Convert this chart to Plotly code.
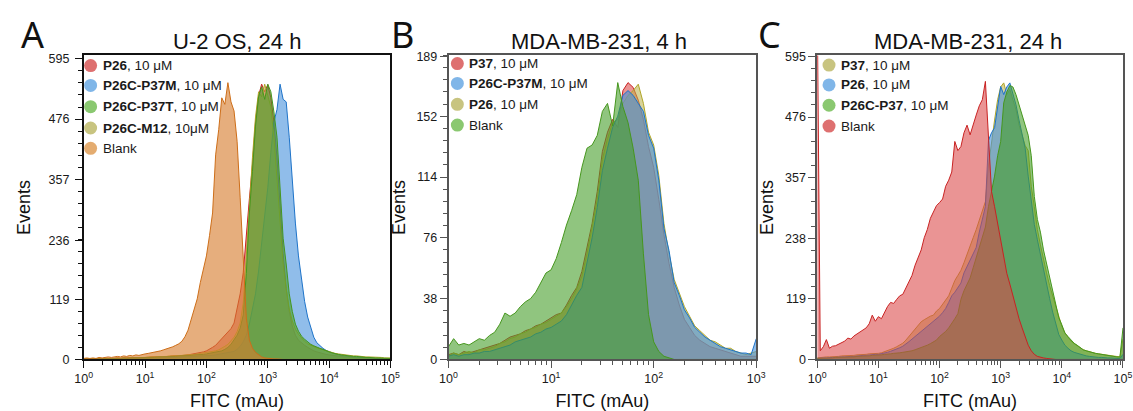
import plotly.graph_objects as go

W, H = 1133, 411

# ---------------------------------------------------------------------------
# Flow-cytometry FITC histograms (event counts per 0.05-decade channel)
# ---------------------------------------------------------------------------
LOG_5DEC = [round(i * 0.05, 2) for i in range(101)]   # channels 10^0 .. 10^5
LOG_3DEC = [round(i * 0.05, 2) for i in range(61)]    # channels 10^0 .. 10^3

# Panel A: U-2 OS, 24 h
a_names = ["P26", "P26C-P37M", "P26C-P37T", "P26C-M12", "Blank"]
a_doses = ["10 μM", "10 μM", "10 μM", "10μM", ""]
a_p26 = [1, 1, 2, 1, 1, 2, 1, 2, 2, 2,
         2, 3, 2, 3, 3, 3, 4, 3, 4, 4,
         4, 4, 5, 5, 5, 5, 6, 6, 6, 7,
         7, 7, 8, 8, 9, 10, 11, 12, 14, 15,
         17, 20, 24, 28, 35, 42, 48, 55, 61, 72,
         100, 130, 172, 253, 318, 385, 470, 522, 545, 530,
         544, 518, 470, 400, 300, 210, 140, 95, 66, 48,
         38, 32, 28, 24, 20, 17, 15, 13, 12, 10,
         9, 8, 7, 6, 6, 5, 5, 4, 4, 3,
         3, 3, 2, 2, 2, 2, 1, 1, 1, 1, 1]
a_p37m = [1, 1, 1, 1, 1, 1, 1, 1, 1, 1,
          1, 2, 1, 2, 2, 2, 2, 2, 2, 2,
          2, 2, 3, 3, 3, 3, 3, 3, 4, 4,
          4, 4, 5, 5, 5, 6, 6, 6, 7, 7,
          7, 8, 8, 9, 10, 11, 12, 13, 14, 16,
          20, 26, 35, 48, 70, 98, 130, 175, 230, 290,
          340, 410, 470, 495, 545, 515, 510, 440, 350, 270,
          205, 160, 115, 84, 62, 44, 33, 27, 22, 18,
          15, 13, 11, 9, 8, 7, 6, 5, 5, 4,
          4, 4, 3, 3, 3, 2, 2, 2, 2, 1, 1]
a_p37t = [1, 1, 1, 2, 1, 1, 2, 1, 2, 2,
          2, 2, 2, 3, 2, 3, 3, 3, 3, 4,
          4, 4, 4, 4, 5, 5, 5, 5, 6, 6,
          6, 7, 7, 7, 8, 8, 9, 9, 10, 10,
          11, 12, 13, 14, 15, 17, 20, 24, 30, 38,
          48, 62, 88, 170, 290, 372, 462, 520, 540, 515,
          545, 530, 490, 440, 330, 240, 189, 130, 95, 70,
          56, 46, 40, 34, 30, 27, 24, 22, 20, 17,
          15, 13, 11, 10, 9, 8, 7, 6, 6, 6,
          5, 5, 4, 4, 3, 3, 3, 3, 2, 2, 2]
a_m12 = [1, 1, 2, 1, 2, 1, 2, 2, 2, 2,
         2, 3, 2, 3, 3, 3, 3, 4, 4, 4,
         4, 5, 5, 5, 5, 6, 6, 6, 7, 7,
         7, 8, 8, 9, 9, 10, 10, 11, 12, 12,
         13, 14, 15, 17, 19, 22, 26, 30, 36, 44,
         55, 72, 112, 200, 300, 400, 480, 530, 520, 545,
         525, 500, 440, 360, 270, 190, 140, 100, 76, 60,
         50, 42, 36, 31, 28, 25, 23, 21, 19, 17,
         15, 13, 12, 11, 10, 9, 8, 8, 7, 7,
         6, 6, 5, 5, 5, 4, 4, 4, 3, 3, 3]
a_blank = [2, 3, 2, 3, 2, 4, 3, 4, 5, 4,
           5, 6, 5, 7, 6, 8, 7, 9, 8, 10,
           11, 12, 13, 14, 15, 17, 19, 21, 22, 25,
           28, 31, 36, 45, 58, 78, 98, 120, 152, 180,
           205, 245, 290, 405, 455, 518, 505, 548, 510, 492,
           432, 320, 190, 82, 38, 22, 14, 9, 5, 3,
           2, 1, 1, 1, 0, 0, 0, 0, 0, 0,
           0, 0, 0, 0, 0, 0, 0, 0, 0, 0,
           0, 0, 0, 0, 0, 0, 0, 0, 0, 0,
           0, 0, 0, 0, 0, 0, 0, 0, 0, 0, 0]

# Panel B: MDA-MB-231, 4 h
b_names = ["P37", "P26C-P37M", "P26", "Blank"]
b_doses = ["10 μM", "10 μM", "10 μM", ""]
b_p37 = [3, 4, 3, 5, 4, 5, 6, 7, 8, 9,
         10, 12, 14, 15, 16, 18, 19, 21, 22, 24,
         26, 28, 29, 34, 40, 45, 55, 70, 85, 105,
         130, 142, 150, 145, 168, 173, 170, 162, 150, 133,
         120, 100, 78, 60, 45, 34, 25, 20, 15, 12,
         10, 8, 7, 6, 5, 4, 3, 2, 2, 2, 2]
b_p37m = [2, 3, 2, 3, 3, 4, 4, 5, 5, 6,
          7, 8, 9, 11, 12, 13, 14, 16, 17, 19,
          20, 22, 24, 28, 34, 40, 45, 60, 76, 95,
          118, 132, 145, 152, 165, 168, 165, 160, 155, 140,
          132, 112, 82, 68, 48, 40, 31, 26, 20, 17,
          14, 12, 10, 8, 7, 6, 5, 4, 4, 3, 13]
b_p26 = [2, 4, 3, 4, 5, 4, 6, 6, 7, 8,
         10, 11, 13, 14, 16, 17, 19, 20, 22, 23,
         25, 27, 29, 33, 38, 44, 52, 66, 82, 100,
         125, 138, 148, 150, 160, 165, 168, 172, 160, 142,
         134, 115, 85, 66, 50, 42, 33, 27, 21, 18,
         15, 12, 11, 9, 7, 7, 5, 4, 3, 4, 5]
b_blank = [8, 13, 9, 10, 9, 11, 13, 12, 15, 17,
           22, 29, 27, 29, 33, 36, 38, 42, 48, 54,
           56, 63, 73, 84, 93, 103, 120, 132, 134, 140,
           155, 160, 146, 173, 158, 148, 132, 112, 66, 28,
           11, 5, 2, 1, 0, 0, 0, 0, 0, 0,
           0, 0, 0, 0, 0, 0, 0, 0, 0, 0, 0]

# Panel C: MDA-MB-231, 24 h (first Blank channel is off-scale)
c_names = ["P37", "P26", "P26C-P37", "Blank"]
c_doses = ["10 μM", "10 μM", "10 μM", ""]
c_p37 = [3, 4, 4, 5, 5, 5, 6, 6, 7, 7,
         7, 8, 8, 9, 9, 10, 10, 11, 11, 12,
         12, 13, 15, 17, 19, 22, 25, 28, 32, 38,
         45, 52, 60, 68, 74, 78, 82, 85, 87, 95,
         100, 108, 115, 125, 140, 155, 165, 175, 190, 205,
         222, 239, 255, 272, 290, 310, 380, 430, 470, 510,
         535, 543, 520, 530, 510, 490, 460, 440, 420, 410,
         340, 300, 255, 225, 195, 170, 145, 125, 100, 80,
         65, 52, 43, 36, 31, 27, 23, 19, 17, 15,
         13, 12, 11, 10, 9, 8, 7, 6, 6, 5, 40]
c_p26 = [2, 3, 3, 3, 4, 4, 4, 5, 5, 5,
         6, 6, 6, 7, 7, 8, 8, 9, 9, 10,
         10, 11, 12, 14, 16, 18, 20, 23, 26, 30,
         35, 40, 45, 50, 55, 60, 65, 70, 74, 80,
         85, 92, 100, 112, 125, 132, 140, 150, 170, 182,
         195, 208, 220, 250, 277, 300, 430, 445, 455, 500,
         536, 520, 535, 543, 520, 500, 470, 440, 415, 360,
         315, 265, 235, 205, 175, 150, 120, 93, 70, 49,
         38, 28, 22, 17, 14, 12, 10, 9, 7, 6,
         5, 5, 4, 4, 3, 3, 3, 2, 2, 2, 10]
c_p26c_p37 = [2, 2, 3, 3, 3, 3, 4, 4, 4, 4,
              5, 5, 5, 6, 6, 6, 7, 7, 8, 8,
              9, 9, 10, 10, 11, 12, 12, 13, 14, 15,
              15, 17, 19, 21, 23, 25, 28, 31, 35, 38,
              45, 50, 55, 62, 70, 80, 90, 118, 135, 148,
              160, 180, 200, 218, 235, 260, 300, 330, 360, 400,
              428, 504, 525, 538, 535, 520, 500, 480, 460, 440,
              400, 320, 275, 250, 215, 188, 160, 137, 108, 82,
              68, 52, 45, 38, 32, 28, 24, 19, 17, 15,
              14, 12, 11, 10, 8, 7, 6, 6, 5, 5, 62]
c_blank = [700, 17, 25, 39, 22, 26, 27, 30, 33, 36,
           42, 40, 46, 50, 54, 57, 62, 70, 87, 75,
           84, 80, 92, 104, 112, 110, 118, 125, 128, 140,
           155, 165, 185, 200, 215, 239, 255, 277, 290, 302,
           308, 315, 340, 352, 368, 428, 410, 418, 445, 460,
           441, 462, 480, 498, 510, 546, 440, 330, 300, 268,
           235, 200, 169, 148, 125, 102, 80, 62, 45, 28,
           17, 10, 6, 4, 3, 2, 1, 1, 0, 0,
           0, 0, 0, 0, 0, 0, 0, 0, 0, 0,
           0, 0, 0, 0, 0, 0, 0, 0, 0, 0, 0]

# y-axis tick values per panel
a_yticks = [0, 119, 236, 357, 476, 595]
b_yticks = [0, 38, 76, 114, 152, 189]
c_yticks = [0, 119, 238, 357, 476, 595]

# ---------------------------------------------------------------------------
# Colours: (edge line, area fill, legend dot)
# ---------------------------------------------------------------------------
RED = ("rgb(200,35,35)", "rgba(218,70,70,0.58)", "rgb(222,112,112)")
BLUE = ("rgb(30,115,200)", "rgba(70,145,220,0.6)", "rgb(128,182,232)")
GREEN = ("rgb(70,150,30)", "rgba(70,158,42,0.6)", "rgb(138,200,112)")
OLIVE = ("rgb(175,165,40)", "rgba(185,175,70,0.55)", "rgb(200,196,128)")
ORANGE = ("rgb(205,110,25)", "rgba(215,125,45,0.62)", "rgb(228,172,112)")

FONT = "Liberation Sans, Arial, sans-serif"

fig = go.Figure()


def add_hist(logpos, counts, name, colors, xa, ya):
    fig.add_trace(go.Scatter(
        x=[10 ** v for v in logpos], y=counts, name=name, mode="lines",
        line=dict(color=colors[0], width=1), fill="tozeroy", fillcolor=colors[1],
        xaxis=xa, yaxis=ya, showlegend=False, hoverinfo="skip"))


# drawing order: later traces sit on top
add_hist(LOG_5DEC, a_p26, a_names[0], RED, "x", "y")
add_hist(LOG_5DEC, a_p37m, a_names[1], BLUE, "x", "y")
add_hist(LOG_5DEC, a_m12, a_names[3], OLIVE, "x", "y")
add_hist(LOG_5DEC, a_p37t, a_names[2], GREEN, "x", "y")
add_hist(LOG_5DEC, a_blank, a_names[4], ORANGE, "x", "y")

add_hist(LOG_3DEC, b_p37, b_names[0], RED, "x2", "y2")
add_hist(LOG_3DEC, b_p26, b_names[2], OLIVE, "x2", "y2")
add_hist(LOG_3DEC, b_p37m, b_names[1], BLUE, "x2", "y2")
add_hist(LOG_3DEC, b_blank, b_names[3], GREEN, "x2", "y2")

add_hist(LOG_5DEC, c_p37, c_names[0], OLIVE, "x3", "y3")
add_hist(LOG_5DEC, c_p26, c_names[1], BLUE, "x3", "y3")
add_hist(LOG_5DEC, c_p26c_p37, c_names[2], GREEN, "x3", "y3")
add_hist(LOG_5DEC, c_blank, c_names[3], RED, "x3", "y3")


# ---------------------------------------------------------------------------
# Axes
# ---------------------------------------------------------------------------
def fx(px):
    return px / W


def fy(py):
    return 1 - py / H


Y_DOM = [fy(365), fy(51)]


def x_axis(left, right, decades, color):
    major = [10 ** d for d in range(decades + 1)]
    minor = [k * 10 ** d for d in range(decades) for k in range(2, 10)]
    return dict(
        type="log", domain=[fx(left), fx(right)], range=[0, decades],
        tickvals=major, ticktext=["10<sup>%d</sup>" % d for d in range(decades + 1)],
        ticks="outside", ticklen=7, tickwidth=1, tickcolor=color,
        ticklabeloverflow="allow",
        minor=dict(tickvals=minor, ticks="outside", ticklen=4, tickwidth=1, tickcolor=color),
        showline=True, linewidth=1.5, linecolor=color, mirror=True,
        showgrid=False, zeroline=False,
        tickfont=dict(family=FONT, size=12.5, color="#1a1a1a"),
        title=dict(text="FITC (mAu)", font=dict(family=FONT, size=18, color="#111"), standoff=11),
    )


def y_axis(anchor, top, ticks, minor_step, color, label_gap, title_gap):
    return dict(
        anchor=anchor, domain=Y_DOM, range=[0, top],
        tickvals=ticks, ticks="outside", ticklen=7, tickwidth=1, tickcolor=color,
        ticklabelstandoff=label_gap,
        minor=dict(tick0=0, dtick=minor_step, ticks="outside", ticklen=4, tickwidth=1, tickcolor=color),
        showline=True, linewidth=1.5, linecolor=color, mirror=True,
        showgrid=False, zeroline=False,
        tickfont=dict(family=FONT, size=12.5, color="#1a1a1a"),
        title=dict(text="Events", font=dict(family=FONT, size=18, color="#111"), standoff=title_gap),
    )


fig.update_layout(
    width=W, height=H, margin=dict(l=0, r=0, t=0, b=0),
    paper_bgcolor="white", plot_bgcolor="white", showlegend=False,
    xaxis=x_axis(76, 388, 5, "#111"),
    yaxis=y_axis("x", 602, a_yticks, 23.8, "#111", 3, 13),
    xaxis2=dict(x_axis(447, 760, 3, "#555"), anchor="y2"),
    yaxis2=y_axis("x2", 190, b_yticks, 7.6, "#555", 0, 6),
    xaxis3=dict(x_axis(822, 1133, 5, "#555"), anchor="y3"),
    yaxis3=y_axis("x3", 597, c_yticks, 23.8, "#555", 0, 7),
)

# ---------------------------------------------------------------------------
# Panel letters, titles and legends
# ---------------------------------------------------------------------------
annotations = []
shapes = []

for letter, cx in (("A", 24), ("B", 400), ("C", 773)):
    annotations.append(dict(text=letter, x=fx(cx), y=fy(29), xref="paper", yref="paper",
                            xanchor="center", yanchor="middle", showarrow=False,
                            font=dict(family="Noto Sans, sans-serif", size=36, color="#111")))

for title, cx in (("U-2 OS, 24 h", 232), ("MDA-MB-231, 4 h", 600), ("MDA-MB-231, 24 h", 975)):
    annotations.append(dict(text=title, x=fx(cx), y=fy(37), xref="paper", yref="paper",
                            xanchor="center", yanchor="middle", showarrow=False,
                            font=dict(family=FONT, size=22, color="#111")))


def legend(names, doses, dots, dot_x, text_x, rows_y):
    for name, dose, dot, ry in zip(names, doses, dots, rows_y):
        shapes.append(dict(type="circle", xref="paper", yref="paper",
                           xsizemode="pixel", ysizemode="pixel",
                           xanchor=fx(dot_x), yanchor=fy(ry),
                           x0=-6.5, x1=6.5, y0=-6.5, y1=6.5,
                           fillcolor=dot, line=dict(width=0)))
        label = name if not dose else "<b>%s</b>, %s" % (name, dose)
        annotations.append(dict(text=label, x=fx(text_x), y=fy(ry), xref="paper", yref="paper",
                                xanchor="left", yanchor="middle", showarrow=False,
                                font=dict(family=FONT, size=13.5, color="#1a1a1a")))


legend(a_names, a_doses, [RED[2], BLUE[2], GREEN[2], OLIVE[2], ORANGE[2]],
       83, 94, [61.5, 82, 104, 126, 147])
legend(b_names, b_doses, [RED[2], BLUE[2], OLIVE[2], GREEN[2]],
       456, 466, [59.5, 80, 101.5, 123])
legend(c_names, c_doses, [OLIVE[2], BLUE[2], GREEN[2], RED[2]],
       834, 844, [61, 81.5, 102.5, 124])

fig.update_layout(annotations=annotations, shapes=shapes)

fig.write_html("out.html")
